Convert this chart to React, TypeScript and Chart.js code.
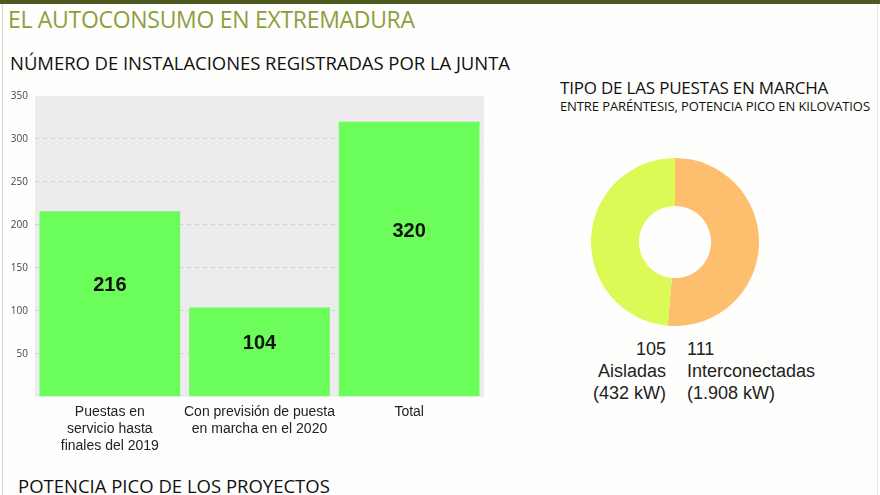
import React, { useEffect, useRef } from "react";
import { Chart, registerables } from "chart.js";

Chart.register(...registerables);

const categories: string[][] = [
  ["Puestas en", "servicio hasta", "finales del 2019"],
  ["Con previsión de puesta", "en marcha en el 2020"],
  ["Total"],
];
const installs: number[] = [216, 104, 320];
const yTicksMax = 350;
const yStep = 50;

const donutLabels: string[] = ["Interconectadas", "Aisladas"];
const donutValues: number[] = [111, 105];
const donutPower: string[] = ["(1.908 kW)", "(432 kW)"];

const mainTitle = "EL AUTOCONSUMO EN EXTREMADURA";
const barTitle = "NÚMERO DE INSTALACIONES REGISTRADAS POR LA JUNTA";
const donutTitle = "TIPO DE LAS PUESTAS EN MARCHA";
const donutSubtitle = "ENTRE PARÉNTESIS, POTENCIA PICO EN KILOVATIOS";
const bottomTitle = "POTENCIA PICO DE LOS PROYECTOS";

const TITLE_FONT = "'Open Sans', 'Noto Sans', sans-serif";
const BODY_FONT = "'Liberation Sans', Arial, sans-serif";

const plotBg = {
  id: "plotBg",
  beforeDraw(chart: any) {
    const { ctx, chartArea } = chart;
    if (!chartArea) return;
    ctx.save();
    ctx.fillStyle = "#EEEBEF";
    ctx.fillRect(chartArea.left, chartArea.top, chartArea.right - chartArea.left, chartArea.bottom - chartArea.top);
    ctx.restore();
  },
};

const barValueLabels = {
  id: "barValueLabels",
  afterDatasetsDraw(chart: any) {
    const { ctx } = chart;
    const meta = chart.getDatasetMeta(0);
    const yScale = chart.scales.y;
    ctx.save();
    ctx.fillStyle = "#111";
    ctx.font = `bold 20px ${BODY_FONT}`;
    ctx.textAlign = "center";
    ctx.textBaseline = "middle";
    meta.data.forEach((bar: any, i: number) => {
      const v = chart.data.datasets[0].data[i] as number;
      const y = yScale.getPixelForValue(v * 0.6);
      ctx.fillText(String(v), bar.x, y);
    });
    ctx.restore();
  },
};

function BarChart() {
  const ref = useRef<HTMLCanvasElement>(null);
  useEffect(() => {
    if (!ref.current) return;
    const chart = new Chart(ref.current, {
      type: "bar",
      data: {
        labels: categories,
        datasets: [
          {
            data: installs,
            backgroundColor: "#6BFD5A",
            borderWidth: 0,
            barPercentage: 0.94,
            categoryPercentage: 1,
          },
        ],
      },
      options: {
        animation: false,
        responsive: false,
        maintainAspectRatio: false,
        layout: { padding: { top: 2, right: 6, left: 0, bottom: 0 } },
        plugins: { legend: { display: false }, tooltip: { enabled: false } },
        scales: {
          x: {
            grid: { display: false, drawTicks: false },
            border: { display: false },
            ticks: {
              color: "#222",
              font: { family: BODY_FONT, size: 14, lineHeight: 1.22 },
              padding: 7,
              maxRotation: 0,
              autoSkip: false,
            },
          },
          y: {
            min: 0,
            max: yTicksMax,
            afterFit(scale: any) {
              scale.width = 35;
            },
            grid: {
              color: (c: any) => (c.tick && (c.tick.value === 0 || c.tick.value === yTicksMax) ? "rgba(0,0,0,0)" : "#D3D0D4"),
              drawTicks: false,
            },
            border: { display: false, dash: [4, 4] },
            ticks: {
              stepSize: yStep,
              color: "#444",
              padding: 7,
              font: { family: TITLE_FONT, size: 10 },
              callback: (v: any) => (v === 0 ? "" : String(v)),
            },
          },
        },
      },
      plugins: [plotBg, barValueLabels],
    });
    return () => chart.destroy();
  }, []);
  return <canvas ref={ref} width={490} height={379} style={{ position: "absolute", left: 0, top: 83, width: 490, height: 379 }} />;
}

function DonutChart() {
  const ref = useRef<HTMLCanvasElement>(null);
  useEffect(() => {
    if (!ref.current) return;
    const chart = new Chart(ref.current, {
      type: "doughnut",
      data: {
        labels: donutLabels,
        datasets: [
          {
            data: donutValues,
            backgroundColor: ["#FDBE6D", "#DCFA55"],
            borderWidth: 0,
          },
        ],
      },
      options: {
        animation: false,
        responsive: false,
        maintainAspectRatio: false,
        cutout: "43%",
        layout: { padding: 6 },
        plugins: { legend: { display: false }, tooltip: { enabled: false } },
      },
    });
    return () => chart.destroy();
  }, []);
  return <canvas ref={ref} width={180} height={180} style={{ position: "absolute", left: 585, top: 152, width: 180, height: 180 }} />;
}

export default function App() {
  const txt = (style: React.CSSProperties): React.CSSProperties => ({
    position: "absolute",
    whiteSpace: "nowrap",
    margin: 0,
    lineHeight: 1,
    ...style,
  });
  return (
    <div
      style={{
        position: "fixed",
        left: 0,
        top: 0,
        width: 880,
        height: 495,
        background: "#FEFEFC",
        overflow: "hidden",
      }}
    >
      <div style={{ position: "absolute", left: 0, top: 0, width: 880, height: 4, background: "#4C5B22" }} />
      <div style={{ position: "absolute", left: 2, top: 4, width: 1, height: 491, background: "#D8D8D8" }} />
      <div style={{ position: "absolute", left: 877, top: 4, width: 1, height: 491, background: "#E4E4E4" }} />
      <div style={txt({ left: 8, top: 8, fontFamily: TITLE_FONT, fontSize: 23, color: "#8E9E3E", letterSpacing: -0.3 })}>{mainTitle}</div>
      <div style={txt({ left: 10, top: 54, fontFamily: TITLE_FONT, fontSize: 18.5, color: "#111", letterSpacing: -0.05 })}>{barTitle}</div>
      <div style={txt({ left: 560, top: 79, fontFamily: TITLE_FONT, fontSize: 17, color: "#111", letterSpacing: -0.2 })}>{donutTitle}</div>
      <div style={txt({ left: 560, top: 100, fontFamily: TITLE_FONT, fontSize: 13, color: "#111", letterSpacing: -0.1 })}>{donutSubtitle}</div>
      <div style={txt({ left: 18, top: 477, fontFamily: TITLE_FONT, fontSize: 18.5, color: "#111", letterSpacing: 0 })}>{bottomTitle}</div>
      <BarChart />
      <DonutChart />
      <div style={txt({ right: 880 - 666, top: 338, fontFamily: BODY_FONT, fontSize: 18, color: "#222", textAlign: "right", lineHeight: "22px" })}>
        {donutValues[1]}
        <br />
        {donutLabels[1]}
        <br />
        {donutPower[1]}
      </div>
      <div style={txt({ left: 687, top: 338, fontFamily: BODY_FONT, fontSize: 18, color: "#222", textAlign: "left", lineHeight: "22px" })}>
        {donutValues[0]}
        <br />
        {donutLabels[0]}
        <br />
        {donutPower[0]}
      </div>
    </div>
  );
}
